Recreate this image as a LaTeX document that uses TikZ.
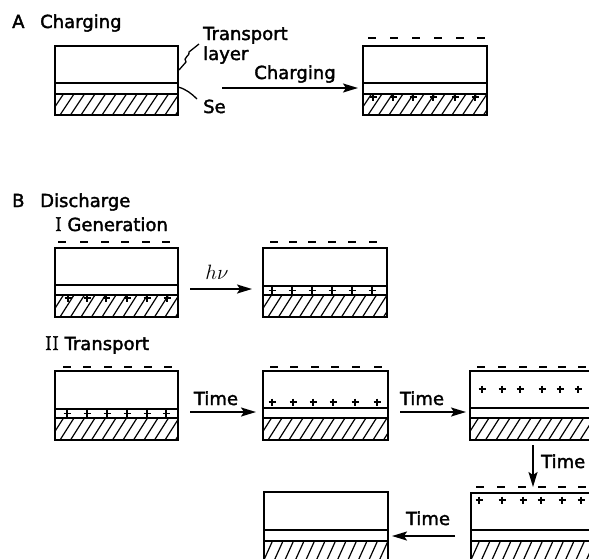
\documentclass[tikz,border=0pt]{standalone}
\usepackage{fontspec}
\newfontfamily\lab[FakeBold=2]{DejaVu Sans}
\newfontfamily\romnum[FakeBold=1.5]{Latin Modern Roman}
\usetikzlibrary{arrows.meta}
\tikzset{
  boxline/.style={line width=1.7pt},
  hatchline/.style={line width=1.2pt},
  chg/.style={line width=1.8pt},
  lbl/.style={font=\lab\fontsize{18}{20}\selectfont, inner sep=0pt},
  arr/.style={line width=1.8pt, -{Stealth[length=15pt,width=9pt,inset=3pt]}},
  lead/.style={line width=1.3pt}
}
\newcommand\filmbox[6]{%
  \begin{scope}
    \clip (#1,#5) rectangle (#2,#6);
    \foreach \k in {0,...,14} {\draw[hatchline] ({#1-16+\k*10.5},#6) -- ({#1-16+\k*10.5+14},#5);}
  \end{scope}
  \draw[boxline] (#1,#3) rectangle (#2,#6);
  \draw[boxline] (#1,#4) -- (#2,#4);
  \draw[boxline] (#1,#5) -- (#2,#5);
}
\newcommand\dashesat[2]{\foreach \x in {#2} {\draw[chg] (\x,#1) -- ++(8,0);}}
\newcommand\plusesat[2]{\foreach \x in {#2} {\draw[chg] (\x-3.5,#1) -- (\x+3.5,#1) (\x,#1-3.5) -- (\x,#1+3.5);}}
\begin{document}
\begin{tikzpicture}[x=1pt,y=-1pt]
\useasboundingbox (0,0) rectangle (589,558);
\clip (0,0) rectangle (589,558);
% ---------- A ----------
\node[lbl, anchor=base west] (la) at (12,28) {A};
\node[lbl, anchor=base west] (lacharging) at (40,28) {Charging};
\filmbox{55}{178}{46}{83}{94}{115}
\node[lbl, anchor=base west] (ltrans) at (203,40) {Transport};
\node[lbl, anchor=base west] (llayer) at (203,60) {layer};
\node[lbl, anchor=base west] (lse) at (203,113) {Se};
\draw[lead] (179,70) -- (186,62) .. controls (182,58) and (191,55) .. (189,52) -- (199,44);
\draw[lead] (178,87) .. controls (186,89) and (192,94) .. (197,99);
\coordinate (ca1) at (222,88);
\coordinate (ca2) at (358,88);
\draw[arr] (ca1) -- (ca2);
\node[lbl, anchor=base] (lchg) at (295,79) {Charging};
\filmbox{363}{487}{46}{83}{94}{115}
\dashesat{38}{368,390,412,434,456,477}
\plusesat{97}{373,393,413,433,455,475}
% ---------- B ----------
\node[lbl, anchor=base west] (lb) at (12,207) {B};
\node[lbl, anchor=base west] (ldis) at (40,207) {Discharge};
\node[lbl, anchor=base west] (lgen) at (55,231) {{\romnum\fontsize{20}{22}\selectfont I} Generation};
\filmbox{55}{178}{248}{285}{295}{317}
\dashesat{242}{58,80,101,121,142,162}
\plusesat{298}{68,87,106,127,147,167}
\coordinate (cg1) at (190,289);
\coordinate (cg2) at (252,289);
\draw[arr] (cg1) -- (cg2);
\node[lbl, anchor=base] (lhv) at (217,279) {\fontsize{20}{22}\selectfont$h\nu$};
\filmbox{263}{387}{248}{286}{295}{317}
\dashesat{242}{270,289,308,328,348,369}
\plusesat{290.5}{272,292,312,332,352,372}
% ---------- Transport ----------
\node[lbl, anchor=base west] (ltr) at (45,350) {{\romnum\fontsize{20}{22}\selectfont II} Transport};
\filmbox{55}{178}{371}{409}{418}{440}
\dashesat{367}{63,83,104,124,144,164}
\plusesat{413.5}{67,87,107,127,147,166}
\coordinate (ct1) at (190,412);
\coordinate (ct2) at (256,412);
\draw[arr] (ct1) -- (ct2);
\node[lbl, anchor=base] (lt1) at (216,405) {Time};
\filmbox{263}{388}{371}{408}{418}{440}
\dashesat{367}{270,290,311,331,352,374}
\plusesat{402}{272,293,313,333,355,377}
\coordinate (ct3) at (400,412);
\coordinate (ct4) at (466,412);
\draw[arr] (ct3) -- (ct4);
\node[lbl, anchor=base] (lt2) at (422,405) {Time};
\filmbox{470}{594}{371}{408}{418}{440}
\dashesat{367}{477,498,519,539,558,578}
\plusesat{389}{482,502,520,542,560,578}
\coordinate (cd1) at (533,445);
\coordinate (cd2) at (533,487);
\draw[arr] (cd1) -- (cd2);
\node[lbl, anchor=base west] (lt3) at (541,468) {Time};
\filmbox{471}{594}{493}{530}{541}{572}
\dashesat{487}{476,497,518,538,558,578}
\plusesat{500}{479,502,523,541,562,581}
\coordinate (cl1) at (455,536);
\coordinate (cl2) at (392,536);
\draw[arr] (cl1) -- (cl2);
\node[lbl, anchor=base] (lt4) at (428,525) {Time};
\filmbox{264}{388}{492}{530}{541}{572}
\end{tikzpicture}
\end{document}
